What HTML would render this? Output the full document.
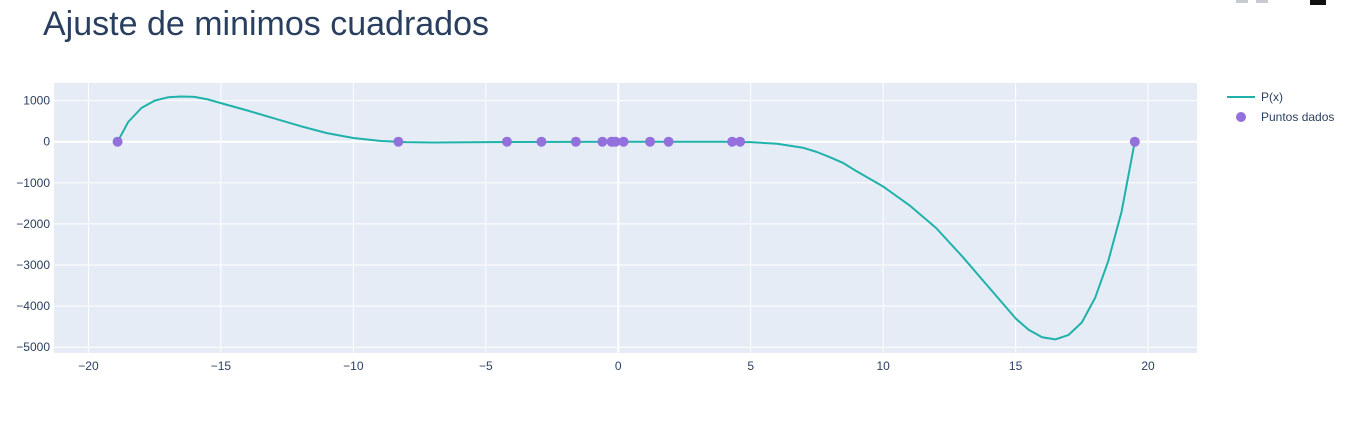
<!DOCTYPE html>
<html><head><meta charset="utf-8"><style>
body{margin:0;background:#fff;font-family:"Liberation Sans",Arial,sans-serif}
svg text{font-family:"Liberation Sans",Arial,sans-serif}
</style></head><body>
<svg id="chart" width="1354" height="417">
<rect width="1354" height="417" fill="#fff"/>
<text x="43" y="35" font-size="34" fill="#2a3f5f">Ajuste de minimos cuadrados</text>
<g fill="#c8ccd2">
<rect x="1236" y="0" width="12" height="3"/><rect x="1256" y="0" width="12" height="3"/><rect x="1310" y="0" width="16" height="5" fill="#111"/>
</g>
<rect x="54" y="83" width="1143" height="270" fill="#e5ecf6"/>
<g id="grid"></g>
<g id="marks"></g>
<g id="labels" font-size="12" fill="#2a3f5f"></g>
<g>
<line x1="1227" y1="97" x2="1255" y2="97" stroke="#20b2aa" stroke-width="2"/>
<text x="1261" y="101" font-size="12" fill="#2a3f5f">P(x)</text>
<circle cx="1241" cy="117" r="5" fill="#9370db"/>
<text x="1261" y="121" font-size="12" fill="#2a3f5f">Puntos dados</text>
</g>
</svg>
<script>
const xTicks=[-20,-15,-10,-5,0,5,10,15,20];
const yTicks=[1000,0,-1000,-2000,-3000,-4000,-5000];
const curveX=[-18.9,-18.5,-18,-17.5,-17,-16.5,-16,-15.5,-15,-14,-13,-12,-11,-10,-9,-8,-7,-5,0,4,5,6,7,7.5,8,8.5,9,10,11,12,13,14,15,15.5,16,16.5,17,17.5,18,18.5,19,19.5];
const curveY=[0,480,820,1000,1080,1100,1090,1030,940,760,570,380,210,90,20,-10,-20,-10,0,0,-10,-50,-150,-250,-380,-520,-720,-1090,-1550,-2100,-2800,-3550,-4300,-4580,-4760,-4810,-4700,-4400,-3800,-2900,-1700,0];
const ptsX=[-18.9,-8.3,-4.2,-2.9,-1.6,-0.6,-0.25,-0.1,0.2,1.2,1.9,4.3,4.6,19.5];
const ptsY=[0,0,0,0,0,0,0,0,0,0,0,0,0,0];
const NS="http://www.w3.org/2000/svg";
const sx=v=>618.25+v*26.49;
const sy=v=>141.7-v*0.0411;
function mk(t,a,p){const e=document.createElementNS(NS,t);for(const k in a)e.setAttribute(k,a[k]);p.appendChild(e);return e;}
const grid=document.getElementById('grid'),labels=document.getElementById('labels'),marks=document.getElementById('marks');
xTicks.forEach(v=>{
 const l=mk('line',{x1:sx(v),x2:sx(v),y1:83,y2:353,stroke:'#fff','stroke-width':v===0?2:1},grid);
 
 
 const t=mk('text',{x:sx(v),y:370,'text-anchor':'middle'},labels);
 t.textContent=v<0?'\u2212'+(-v):String(v);
 
 
});
yTicks.forEach(v=>{
 const l=mk('line',{x1:54,x2:1197,y1:sy(v),y2:sy(v),stroke:'#fff','stroke-width':v===0?2:1},grid);
 
 
 const t=mk('text',{x:50,y:sy(v)+4,'text-anchor':'end'},labels);
 t.textContent=v<0?'\u2212'+(-v):String(v);
 
 
});
let d='';curveX.forEach((x,i)=>{d+=(i?'L':'M')+sx(x).toFixed(1)+' '+sy(curveY[i]).toFixed(1);});
const p=mk('path',{d:d,fill:'none',stroke:'#20b2aa','stroke-width':2,'stroke-linejoin':'round'},marks);


ptsX.forEach((x,i)=>{
 const c=mk('circle',{cx:sx(x),cy:sy(ptsY[i]),r:5,fill:'#9370db'},marks);
 
 
});
</script>
</body></html>
